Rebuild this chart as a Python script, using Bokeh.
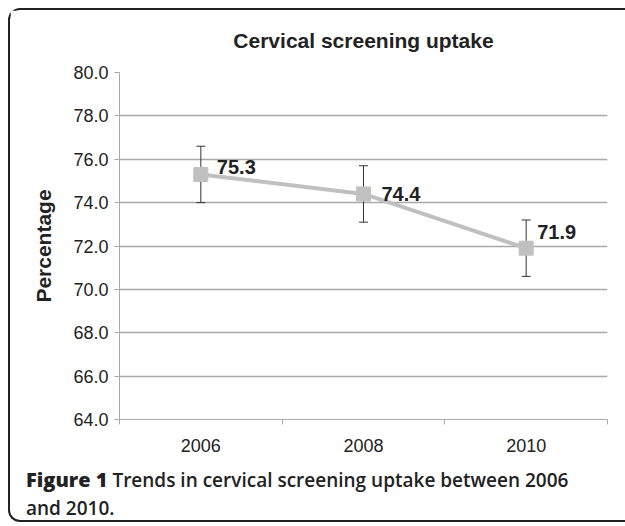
from bokeh.plotting import figure
from bokeh.layouts import column
from bokeh.models import (ColumnDataSource, Range1d, FixedTicker, Whisker, TeeHead,
                          Div, PrintfTickFormatter)
from bokeh.core.properties import value
from bokeh.embed import file_html
from bokeh.resources import INLINE

# ---- data ----
years = ["2006", "2008", "2010"]
uptake = [75.3, 74.4, 71.9]
upper_ci = [76.6, 75.7, 73.2]
lower_ci = [74.0, 73.1, 70.6]
y_ticks = [64, 66, 68, 70, 72, 74, 76, 78, 80]
value_labels = ["75.3", "74.4", "71.9"]
title_text = "Cervical screening uptake"
y_label = "Percentage"
caption_bold = "Figure 1"
caption_rest = "Trends in cervical screening uptake between 2006"
caption_line2 = "and 2010."

# label placement (style)
label_dx = [16, 18, 11]
label_dy = [-7, 0, -16]

xs = [i + 0.5 for i in range(len(years))]
bounds = [float(i) for i in range(len(years) + 1)]

src = ColumnDataSource(dict(x=xs, y=uptake, upper=upper_ci, lower=lower_ci,
                            txt=value_labels, dx=label_dx, dy=label_dy))

FONT = "Liberation Sans"
DARK = "#222222"
GRID = "#a9a9a9"
W = 615

p = figure(width=W, height=452, x_range=Range1d(0, len(years)),
           y_range=Range1d(y_ticks[0], y_ticks[-1]),
           output_backend="svg", toolbar_location=None,
           min_border_left=109, min_border_right=18,
           min_border_top=62, min_border_bottom=43,
           title=title_text)
p.outline_line_color = None

p.title.align = "center"
p.title.vertical_align = "top"
p.title.text_font = FONT
p.title.text_font_size = "21px"
p.title.text_font_style = "bold"
p.title.text_color = DARK
p.title.standoff = 37

# y axis
ya = p.yaxis[0]
ya.ticker = FixedTicker(ticks=y_ticks)
ya.formatter = PrintfTickFormatter(format="%.1f")
ya.major_tick_out = 5
ya.major_tick_in = 0
ya.minor_tick_line_color = None
ya.axis_line_color = GRID
ya.major_tick_line_color = GRID
ya.major_label_text_font = FONT
ya.major_label_text_font_size = "18px"
ya.major_label_text_color = DARK
ya.major_label_standoff = 6
ya.axis_label = y_label
ya.axis_label_text_font = FONT
ya.axis_label_text_font_size = "21px"
ya.axis_label_text_font_style = "bold"
ya.axis_label_text_color = DARK
ya.axis_label_standoff = 15

# x axis
xa = p.xaxis[0]
xa.ticker = FixedTicker(ticks=xs, minor_ticks=bounds)
xa.major_label_overrides = {x: y for x, y in zip(xs, years)}
xa.major_tick_line_color = None
xa.major_tick_out = 5
xa.minor_tick_out = 5
xa.minor_tick_in = 0
xa.minor_tick_line_color = GRID
xa.axis_line_color = GRID
xa.major_label_text_font = FONT
xa.major_label_text_font_size = "18px"
xa.major_label_text_color = DARK
xa.major_label_standoff = 14

p.xgrid.visible = False
p.ygrid.grid_line_color = GRID
p.ygrid.grid_line_width = 1.5

# error bars
wh = Whisker(base="x", upper="upper", lower="lower", source=src, dimension="height",
             line_color="#333333", line_width=1,
             upper_head=TeeHead(size=9, line_color="#333333", line_width=1),
             lower_head=TeeHead(size=9, line_color="#333333", line_width=1),
             level="underlay")
p.add_layout(wh)

p.line("x", "y", source=src, line_color="#c0c0c0", line_width=4)
p.scatter("x", "y", source=src, marker="square", size=14, fill_color="#c0c0c0",
          line_color="#c0c0c0")

p.text("x", "y", text="txt", source=src, x_offset="dx", y_offset="dy",
       text_font=value(FONT), text_font_size="20px", text_font_style="bold",
       text_color=DARK, text_align="left", text_baseline="middle")

# ---- caption ----
cap_html = (
    '<div style="font-family:\'Open Sans\',sans-serif;font-size:19px;line-height:28px;'
    'color:#222;white-space:nowrap;padding:4px 0 0 16px;">'
    f'<span style="font-weight:800;font-size:20px;">{caption_bold}</span> '
    f'<span style="font-weight:600;">{caption_rest}</span><br>'
    f'<span style="font-weight:600;">{caption_line2}</span></div>'
)
cap = Div(text=cap_html, width=W, height=58, margin=(0, 0, 0, 0))

layout = column(p, cap, spacing=0)
layout.styles = {"margin-left": "8px", "margin-top": "8px",
                 "border-left": "2px solid #222", "border-top": "2px solid #222",
                 "border-bottom": "2px solid #222", "border-radius": "12px 0 0 12px"}

open("out.html", "w").write(file_html(layout, INLINE))
